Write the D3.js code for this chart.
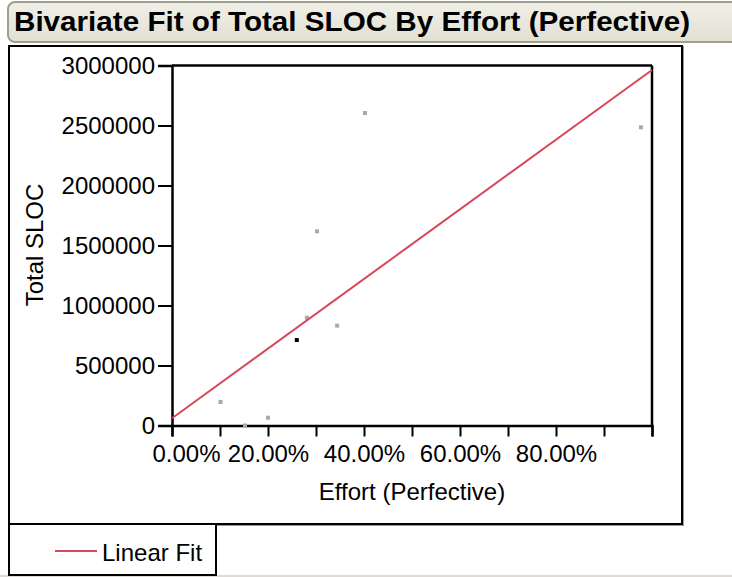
<!DOCTYPE html>
<html>
<head>
<meta charset="utf-8">
<script src="https://cdnjs.cloudflare.com/ajax/libs/d3/7.8.5/d3.min.js"></script>
<style>
  body { margin: 0; background: #fff; overflow: hidden; }
  text { font-family: "Liberation Sans", Arial, sans-serif; }
</style>
</head>
<body>
<script>
// data
var effort = [0.101, 0.152, 0.200, 0.260, 0.281, 0.302, 0.344, 0.402, 0.977];
var sloc = [196000, 0, 65000, 712000, 898000, 1618000, 832000, 2604000, 2485000];
var selected = [false, false, false, true, false, false, false, false, false];
var fitIntercept = 60000;
var fitSlope = 2903000;
var yTicks = [0, 500000, 1000000, 1500000, 2000000, 2500000, 3000000];
var xTicks = [0, 0.1, 0.2, 0.3, 0.4, 0.5, 0.6, 0.7, 0.8, 0.9, 1.0];
var xLabelled = [0, 0.2, 0.4, 0.6, 0.8];

var svg = d3.select("body").append("svg")
    .attr("width", 732)
    .attr("height", 577);

//title bar
var grad = svg.append("defs").append("linearGradient")
    .attr("id", "tg").attr("x1", 0).attr("y1", 0).attr("x2", 0).attr("y2", 1);
grad.append("stop").attr("offset", "0%").attr("stop-color", "#f1f0e8");
grad.append("stop").attr("offset", "100%").attr("stop-color", "#e2e0d2");

svg.append("rect")
    .attr("x", 8).attr("y", 2)
    .attr("width", 740).attr("height", 40)
    .attr("rx", 7)
    .attr("fill", "url(#tg)")
    .attr("stroke", "#a09f8c")
    .attr("stroke-width", 2);

svg.append("text")
    .attr("x", 14).attr("y", 31)
    .attr("font-size", 28)
    .attr("font-weight", "bold")
    .attr("textLength", 676)
    .attr("lengthAdjust", "spacingAndGlyphs")
    .text("Bivariate Fit of Total SLOC By Effort (Perfective)");

//outer frame and legend box
svg.append("line")
    .attr("x1", 0).attr("x2", 732).attr("y1", 576).attr("y2", 576)
    .attr("stroke", "#dcdcd4").attr("stroke-width", 2);

svg.append("rect")
    .attr("x", 10).attr("y", 47)
    .attr("width", 673).attr("height", 478)
    .attr("fill", "none").attr("stroke", "#999").attr("stroke-width", 2);
svg.append("rect")
    .attr("x", 9).attr("y", 46)
    .attr("width", 673).attr("height", 478)
    .attr("fill", "#fff").attr("stroke", "#000").attr("stroke-width", 2);

svg.append("rect")
    .attr("x", 9).attr("y", 524)
    .attr("width", 207).attr("height", 51)
    .attr("fill", "#fff").attr("stroke", "#000").attr("stroke-width", 2);

var x = d3.scaleLinear().domain([0, 1]).range([172, 652]);
var y = d3.scaleLinear().domain([0, 3000000]).range([425.5, 65.5]);

//plot frame (top and right)
svg.append("line")
    .attr("x1", 172).attr("x2", 652).attr("y1", 65.5).attr("y2", 65.5)
    .attr("stroke", "#000").attr("stroke-width", 2.5);
svg.append("line")
    .attr("x1", 652).attr("x2", 652).attr("y1", 65.5).attr("y2", 425.5)
    .attr("stroke", "#000").attr("stroke-width", 2.5);

//axes
var yAxis = svg.append("g")
    .attr("transform", "translate(172,0)")
    .call(d3.axisLeft(y).tickValues(yTicks).tickSize(14).tickPadding(3)
        .tickFormat(d3.format("d")));

var xAxis = svg.append("g")
    .attr("transform", "translate(0,425.5)")
    .call(d3.axisBottom(x).tickValues(xTicks).tickSize(11).tickPadding(8)
        .tickFormat(function(d) {
            return xLabelled.some(function(v) { return Math.abs(v - d) < 1e-9; })
                ? d3.format(".2%")(d) : "";
        }));

svg.selectAll(".domain").attr("stroke", "#000").attr("stroke-width", 2.5);
svg.selectAll(".tick line").attr("stroke", "#000").attr("stroke-width", 2);
svg.selectAll(".tick text")
    .attr("fill", "#000")
    .attr("font-size", 24)
    .attr("font-family", "'Liberation Sans', Arial, sans-serif");

//first x label sits right of its tick
xAxis.selectAll(".tick text").filter(function(d) { return d === 0; })
    .attr("dx", 14);

//axis titles
svg.append("text")
    .attr("x", 412).attr("y", 500)
    .attr("text-anchor", "middle")
    .attr("font-size", 24)
    .text("Effort (Perfective)");

svg.append("text")
    .attr("transform", "translate(43,245) rotate(-90)")
    .attr("text-anchor", "middle")
    .attr("font-size", 24)
    .text("Total SLOC");

//points
svg.selectAll(".pt")
    .data(effort)
    .enter().append("rect")
    .attr("class", "pt")
    .attr("x", function(d) { return x(d) - 2; })
    .attr("y", function(d, i) { return y(sloc[i]) - 2; })
    .attr("width", 4).attr("height", 4)
    .attr("fill", function(d, i) { return selected[i] ? "#000" : "#a9a9a9"; });

//linear fit
var lineGenerator = d3.line()
    .x(function(d) { return x(d); })
    .y(function(d) { return y(fitIntercept + fitSlope * d); });

svg.append("path")
    .attr("d", lineGenerator([0, 1]))
    .attr("fill", "none")
    .attr("stroke", "#d8475a")
    .attr("stroke-width", 2);

//legend
svg.append("line")
    .attr("x1", 55).attr("x2", 97).attr("y1", 551).attr("y2", 551)
    .attr("stroke", "#d8475a").attr("stroke-width", 2);

svg.append("text")
    .attr("x", 102).attr("y", 561)
    .attr("font-size", 24)
    .text("Linear Fit");
</script>
</body>
</html>
